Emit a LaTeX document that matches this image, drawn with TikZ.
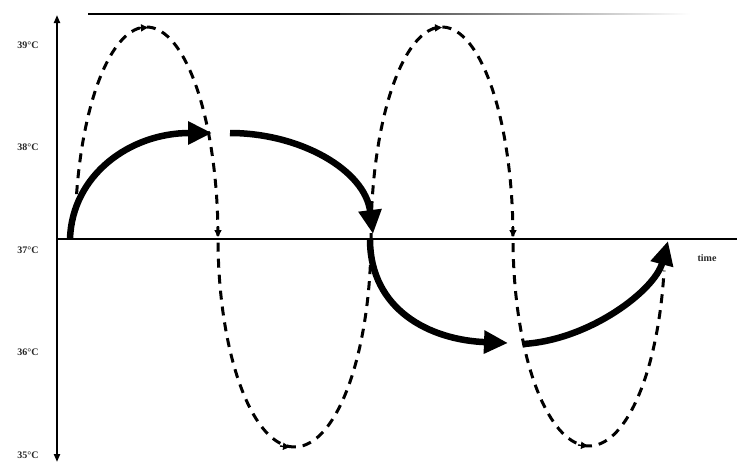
\documentclass[tikz,border=0pt]{standalone}
\usepackage{fontspec}
\setmainfont{Liberation Serif}
\usetikzlibrary{arrows.meta}
\begin{document}
\begin{tikzpicture}[x=1pt,y=-1pt,
  lbl/.style={font=\bfseries\fontsize{10}{10}\selectfont, inner sep=0pt, text=black!85},
  axisline/.style={line width=2pt, black},
  bigarrow/.style={line width=6.5pt, line cap=butt, -{Triangle[length=24pt,width=22pt]}},
  dashline/.style={line width=3pt, dash pattern=on 9pt off 7pt},
  smalltip/.style={line width=1.4pt, -{Triangle[length=7pt,width=7pt]}}]
\useasboundingbox (0,0) rectangle (737,464);
% top edge line (scan border)
\draw[line width=1.6pt] (88,14) -- (340,14);
\shade[left color=black!85, right color=white] (340,13.2) rectangle (690,14.8);
% axes
\coordinate (ytop) at (57,15);
\coordinate (ybot) at (57,462);
\coordinate (xl) at (57,239);
\coordinate (xr) at (737,239);
\draw[axisline, {Triangle[length=8pt,width=6pt]}-{Triangle[length=8pt,width=6pt]}] (ybot) -- (ytop);
\draw[axisline] (xl) -- (xr);
% labels
\node[lbl] (t39) at (28,45) {39°C};
\node[lbl] (t38) at (28,147) {38°C};
\node[lbl] (t37) at (28,250) {37°C};
\node[lbl] (t36) at (28,352) {36°C};
\node[lbl] (t35) at (28,455) {35°C};
\node[lbl] (time) at (707,258) {time};
% dashed oscillation (half ellipses)
\draw[dashline]
  plot[domain=12:180, samples=70, smooth] ({146.5-71.5*cos(\x)}, {238-211*sin(\x)})
  -- plot[domain=0:180, samples=70, smooth] ({294.5-76.5*cos(\x)}, {238+209*sin(\x)})
  -- plot[domain=0:180, samples=70, smooth] ({442-71*cos(\x)}, {238-211*sin(\x)})
  -- plot[domain=0:171, samples=70, smooth] ({589-76*cos(\x)}, {238+208*sin(\x)});
% small tips on the dashed line
\coordinate (d1a) at (218,226); \coordinate (d1b) at (218,237);
\coordinate (d2a) at (513,226); \coordinate (d2b) at (513,237);
\draw[smalltip] (d1a) -- (d1b);
\draw[smalltip] (d2a) -- (d2b);
\coordinate (p1a) at (138,28); \coordinate (p1b) at (148,27.5);
\coordinate (p2a) at (432,28); \coordinate (p2b) at (442,27.5);
\coordinate (p3a) at (280,446); \coordinate (p3b) at (290,447);
\coordinate (p4a) at (578,445); \coordinate (p4b) at (588,446);
\draw[smalltip] (p1a) -- (p1b);
\draw[smalltip] (p2a) -- (p2b);
\draw[smalltip] (p3a) -- (p3b);
\draw[smalltip] (p4a) -- (p4b);
% thick solid arrows
\coordinate (a1s) at (70,239);  \coordinate (a1e) at (212,133);
\coordinate (a2s) at (230,133); \coordinate (a2e) at (373,234);
\coordinate (a3s) at (370,239); \coordinate (a3e) at (508,343);
\coordinate (a4s) at (523,344); \coordinate (a4e) at (668,241);
\draw[bigarrow] (a1s) .. controls (72,175) and (130,133) .. (a1e);
\draw[bigarrow] (a2s) .. controls (300,133) and (365,170) .. (a2e);
\draw[bigarrow] (a3s) .. controls (370,310) and (430,340) .. (a3e);
\draw[bigarrow] (a4s) .. controls (590,340) and (655,290) .. (a4e);
\end{tikzpicture}
\end{document}
